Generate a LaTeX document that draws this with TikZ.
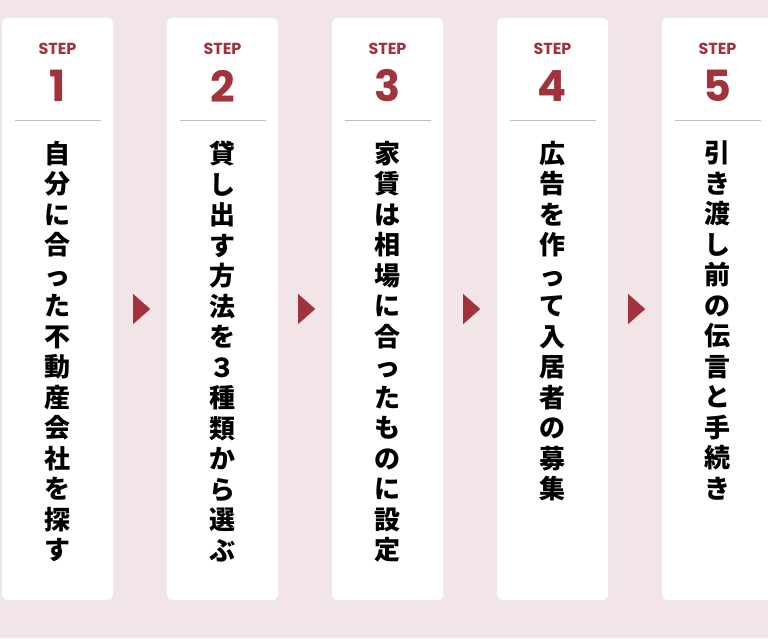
\documentclass[tikz,border=0pt]{standalone}
\usepackage{fontspec}
\setmainfont{Poppins}
\newfontfamily\jp{Noto Sans CJK JP}
\usetikzlibrary{positioning, shapes.geometric, calc}
\definecolor{bgpink}{HTML}{F2E5E7}
\definecolor{stepred}{HTML}{A2323B}
\tikzset{
  card/.style={fill=white, rounded corners=5pt, minimum width=111pt, minimum height=582pt, inner sep=0pt},
  steplabel/.style={text=stepred, font=\bfseries\fontsize{16}{16}\selectfont},
  stepnum/.style={text=stepred, font=\bfseries\fontsize{43}{43}\selectfont},
  vtext/.style={anchor=north, align=center, inner sep=0pt, font=\jp\bfseries\fontsize{26}{30.5}\selectfont},
  marker/.style={isosceles triangle, isosceles triangle stretches, fill=stepred, minimum width=30pt, minimum height=17pt, inner sep=0pt}
}
\begin{document}
\begin{tikzpicture}[x=1pt, y=-1pt]
  \fill[bgpink] (0,0) rectangle (768,638);
  \useasboundingbox (0,0) rectangle (768,638);
  % cards
  \foreach \n/\cx in {1/57.5, 2/222.5, 3/387.5, 4/552.5, 5/717.5} {
    \node[card] (card\n) at (\cx,309) {};
    \node[steplabel] (step\n) at (\cx,49) {STEP};
    \node[stepnum] (num\n) at (\cx,86) {\n};
    \draw[gray!50, line width=0.8pt] (\cx-43,120) -- (\cx+43,120);
  }
  % texts
  \node[vtext] (text1) at (57.5,141) {自\\分\\に\\合\\っ\\た\\不\\動\\産\\会\\社\\を\\探\\す};
  \node[vtext] (text2) at (222.5,141) {貸\\し\\出\\す\\方\\法\\を\\３\\種\\類\\か\\ら\\選\\ぶ};
  \node[vtext] (text3) at (387.5,141) {家\\賃\\は\\相\\場\\に\\合\\っ\\た\\も\\の\\に\\設\\定};
  \node[vtext] (text4) at (552.5,141) {広\\告\\を\\作\\っ\\て\\入\\居\\者\\の\\募\\集};
  \node[vtext] (text5) at (717.5,141) {引\\き\\渡\\し\\前\\の\\伝\\言\\と\\手\\続\\き};
  % markers
  \foreach \a/\b in {1/2, 2/3, 3/4, 4/5} {
    \node[marker] (arrow\a) at ($(card\a.east)!0.5!(card\b.west)$) {};
  }
\end{tikzpicture}
\end{document}
